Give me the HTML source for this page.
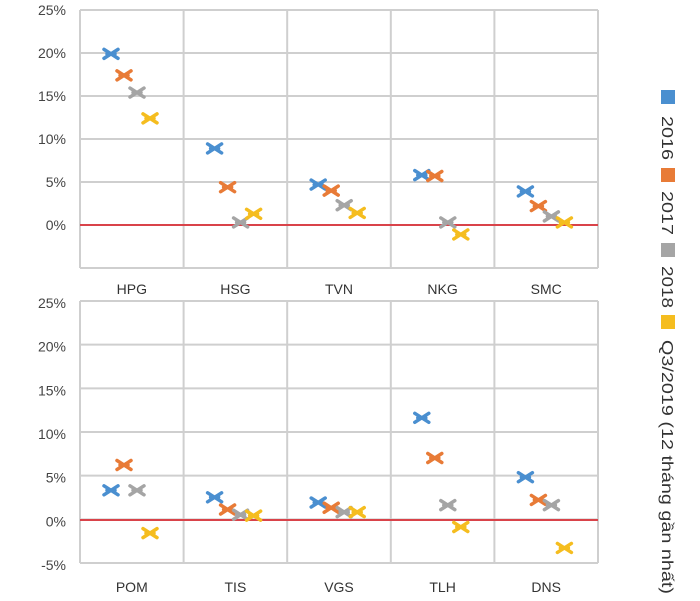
<!DOCTYPE html>
<html><head><meta charset="utf-8"><style>
body{margin:0;background:#fff;width:700px;height:601px;overflow:hidden}
svg{display:block;font-family:"Liberation Sans","Noto Sans CJK SC",sans-serif}
</style></head><body>
<svg width="700" height="601" viewBox="0 0 700 601" id="s"></svg>
<script>
const s=document.getElementById('s');let h='';
const cols=['#4a8fd0','#e87b37','#a5a5a5','#f5bd1f'];
const xs=[80,183.6,287.2,390.8,494.4,598];
function panel(top,bot,ymin,ymax,zeroY,names,data,labY,tickShift,showMin){
  const sc=(bot-top)/(ymax-ymin);
  const Y=v=>top+(ymax-v)*sc;
  for(let v=ymax;v>=ymin;v-=5){
    const y=Y(v);
    h+=`<line x1="80" x2="598" y1="${y}" y2="${y}" stroke="#cfcfcf" stroke-width="2"/>`;
    if(v>ymin||showMin) h+=`<text x="66" y="${y+5+tickShift}" text-anchor="end" font-size="14" fill="#444">${v}%</text>`;
  }
  xs.forEach(x=>h+=`<line x1="${x}" x2="${x}" y1="${top}" y2="${bot}" stroke="#cfcfcf" stroke-width="2"/>`);
  h+=`<line x1="80" x2="598" y1="${zeroY}" y2="${zeroY}" stroke="#d9434a" stroke-width="2"/>`;
  names.forEach((n,i)=>{
    h+=`<text x="${xs[i]+51.8}" y="${labY}" text-anchor="middle" font-size="14" fill="#333">${n}</text>`;
    data[i].forEach((v,j)=>{
      const cx=xs[i]+31+13*j, cy=Y(v)+(zeroY-Y(0));
      const c=cols[j];
      h+=`<g stroke="${c}" stroke-width="3.5" stroke-linecap="round"><line x1="${cx-7}" y1="${cy-4.5}" x2="${cx+7}" y2="${cy+4.5}"/><line x1="${cx-7}" y1="${cy+4.5}" x2="${cx+7}" y2="${cy-4.5}"/><line x1="${cx-4}" y1="${cy}" x2="${cx+4}" y2="${cy}"/></g>`;
    });
  });
}
panel(10,268,-5,25,225,['HPG','HSG','TVN','NKG','SMC'],
 [[19.9,17.4,15.4,12.4],[8.9,4.4,0.3,1.3],[4.7,4.0,2.3,1.4],[5.8,5.7,0.3,-1.1],[3.9,2.2,1.0,0.3]],294,0,false);
panel(301,563,-5,25,520,['POM','TIS','VGS','TLH','DNS'],
 [[3.4,6.3,3.4,-1.5],[2.6,1.2,0.6,0.5],[2.0,1.4,0.9,0.9],[11.7,7.1,1.7,-0.8],[4.9,2.3,1.7,-3.2]],592,2,true);
const leg=[['2016',97,116,44],['2017',175,191,44],['2018',250,266,42],['Q3/2019 (12 tháng gần nhất)',322,340,254]];
leg.forEach((l,i)=>{
  h+=`<rect x="661" y="${l[1]-7}" width="14" height="14" fill="${cols[i]}"/>`;
  h+=`<text transform="translate(662,${l[2]}) rotate(90)" font-size="16" fill="#333" textLength="${l[3]}" lengthAdjust="spacingAndGlyphs">${l[0]}</text>`;
});
s.innerHTML=h;
</script>
</body></html>
